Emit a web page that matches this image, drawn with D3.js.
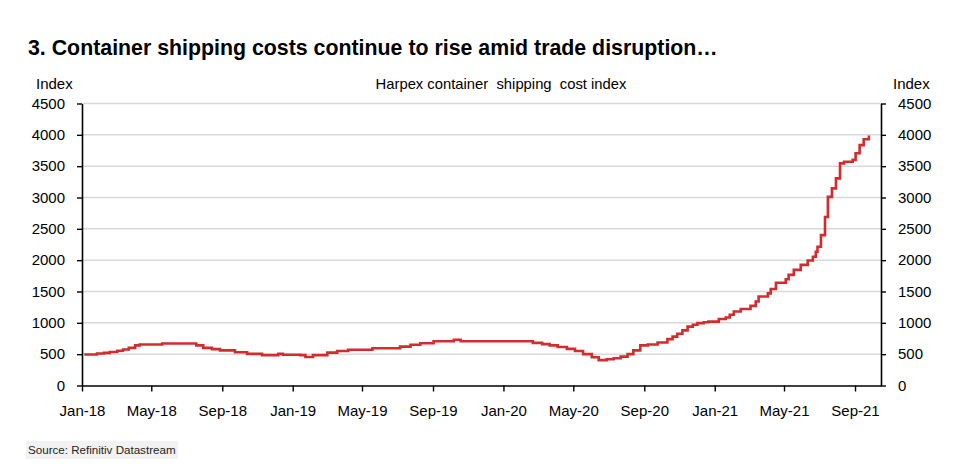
<!DOCTYPE html>
<html><head><meta charset="utf-8">
<script src="https://cdn.jsdelivr.net/npm/d3@7"></script>
<style>
html,body{margin:0;padding:0;background:#fff;}
svg{display:block;font-family:"Liberation Sans",Arial,sans-serif;}
</style></head>
<body>
<svg id="c" width="958" height="472"></svg>
<script>
const titleText = "3. Container shipping costs continue to rise amid trade disruption…";
const subtitleText = "Harpex container  shipping  cost index";
const sourceText = "Source: Refinitiv Datastream";
const axisLabel = "Index";
const yTicks = [0, 500, 1000, 1500, 2000, 2500, 3000, 3500, 4000, 4500];
const xTickDates = ["2018-01-01","2018-05-01","2018-09-01","2019-01-01","2019-05-01","2019-09-01","2020-01-01","2020-05-01","2020-09-01","2021-01-01","2021-05-01","2021-09-01"];
const dates = [
"2018-01-05","2018-01-27","2018-02-08","2018-02-18","2018-03-03","2018-03-13","2018-03-23","2018-04-03","2018-04-11","2018-05-20",
"2018-07-12","2018-07-18","2018-07-30","2018-08-14","2018-08-28","2018-09-23","2018-10-14","2018-11-09","2018-12-07","2018-12-15",
"2019-01-14","2019-01-23","2019-02-05","2019-03-02","2019-03-19","2019-04-07","2019-05-19","2019-07-06","2019-07-24","2019-08-10",
"2019-09-02","2019-10-07","2019-10-19","2020-02-04","2020-02-21","2020-03-08","2020-03-21","2020-04-04","2020-04-20","2020-05-04",
"2020-05-18","2020-06-02","2020-06-14","2020-06-28","2020-07-10","2020-07-22","2020-08-03","2020-08-13","2020-08-25","2020-09-07",
"2020-09-24","2020-10-11","2020-10-20","2020-10-28","2020-11-06","2020-11-15","2020-11-24","2020-12-02","2020-12-13","2020-12-21",
"2021-01-08","2021-01-20","2021-01-27","2021-02-03","2021-02-15","2021-03-04","2021-03-13","2021-03-18","2021-04-03","2021-04-08",
"2021-04-17","2021-05-04","2021-05-09","2021-05-18","2021-05-30","2021-06-11","2021-06-20","2021-06-25","2021-06-28","2021-07-04",
"2021-07-11","2021-07-16","2021-07-23","2021-07-30","2021-08-06","2021-08-13","2021-08-28","2021-09-02","2021-09-09","2021-09-16",
"2021-09-25"];
const values = [
495,510,520,535,555,575,600,640,655,670,
670,640,600,580,560,530,505,485,505,490,
485,455,485,525,550,570,595,620,650,675,
705,730,705,705,680,660,640,615,585,550,
500,450,405,420,435,460,500,560,640,655,
685,740,780,825,880,940,970,995,1010,1020,
1060,1085,1130,1180,1220,1270,1340,1420,1470,1540,
1640,1695,1765,1845,1925,1995,2055,2135,2215,2400,
2690,3010,3145,3305,3545,3570,3600,3705,3835,3930,
3990];

(function(){
const parse = d3.timeParse("%Y-%m-%d");
const fmt = d3.timeFormat("%b-%y");
const data = dates.map((d,i)=>({date:parse(d), value:values[i]}));

const svg = d3.select("#c");
const mLeft = 82, mRight = 881, mTop = 103.5, mBottom = 385.5;
const x = d3.scaleTime().domain([parse("2018-01-01"), parse("2021-10-16")]).range([mLeft, mRight]);
const y = d3.scaleLinear().domain([0, 4500]).range([mBottom, mTop]);

// title
const t = svg.append("text").attr("x", 28).attr("y", 55)
  .attr("font-weight", "bold").attr("font-size", 19).attr("fill", "#000").text(titleText);
const tw = t.node().getComputedTextLength();
t.attr("font-size", 19 * 690 / tw);

// grid
svg.append("g").selectAll("line").data(yTicks.filter(v=>v>0)).join("line")
  .attr("x1", mLeft).attr("x2", mRight).attr("y1", d=>y(d)).attr("y2", d=>y(d))
  .attr("stroke", "#d9d9d9").attr("stroke-width", 1.5);

// line
svg.append("path").datum(data)
  .attr("d", d3.line().x(d=>x(d.date)).y(d=>y(d.value)).curve(d3.curveStepAfter))
  .attr("fill", "none").attr("stroke", "#d42b2e").attr("stroke-width", 2.6);

function styleAxis(g){
  g.select(".domain").attr("stroke", "#000").attr("stroke-width", 1.6);
  g.selectAll(".tick line").attr("stroke", "#000").attr("stroke-width", 1.4);
  g.selectAll("text").attr("font-size", 15).attr("fill", "#000")
   .attr("font-family", '"Liberation Sans",Arial,sans-serif');
}
const yl = svg.append("g").attr("transform", `translate(${mLeft},0)`)
  .call(d3.axisLeft(y).tickValues(yTicks).tickSize(5).tickPadding(12).tickSizeOuter(0).tickFormat(d3.format("d")));
styleAxis(yl);
const yr = svg.append("g").attr("transform", `translate(${mRight},0)`)
  .call(d3.axisRight(y).tickValues(yTicks).tickSize(5).tickPadding(12).tickSizeOuter(0).tickFormat(d3.format("d")));
styleAxis(yr);
const xa = svg.append("g").attr("transform", `translate(0,${mBottom})`)
  .call(d3.axisBottom(x).tickValues(xTickDates.map(parse)).tickSize(6).tickPadding(14).tickSizeOuter(0).tickFormat(fmt));
styleAxis(xa);

// axis titles
svg.append("text").attr("x", 36).attr("y", 89).attr("font-size", 15).text(axisLabel);
svg.append("text").attr("x", 893).attr("y", 89).attr("font-size", 15).text(axisLabel);
svg.append("text").attr("x", 501).attr("y", 89).attr("font-size", 14.8).attr("text-anchor", "middle")
  .attr("xml:space", "preserve").style("white-space", "pre").text(subtitleText);

// source
svg.append("rect").attr("x", 26).attr("y", 441).attr("width", 152).attr("height", 18).attr("fill", "#f2f2f2");
svg.append("text").attr("x", 28).attr("y", 454).attr("font-size", 11.6).attr("fill", "#222").text(sourceText);
})();
</script>
</body></html>
